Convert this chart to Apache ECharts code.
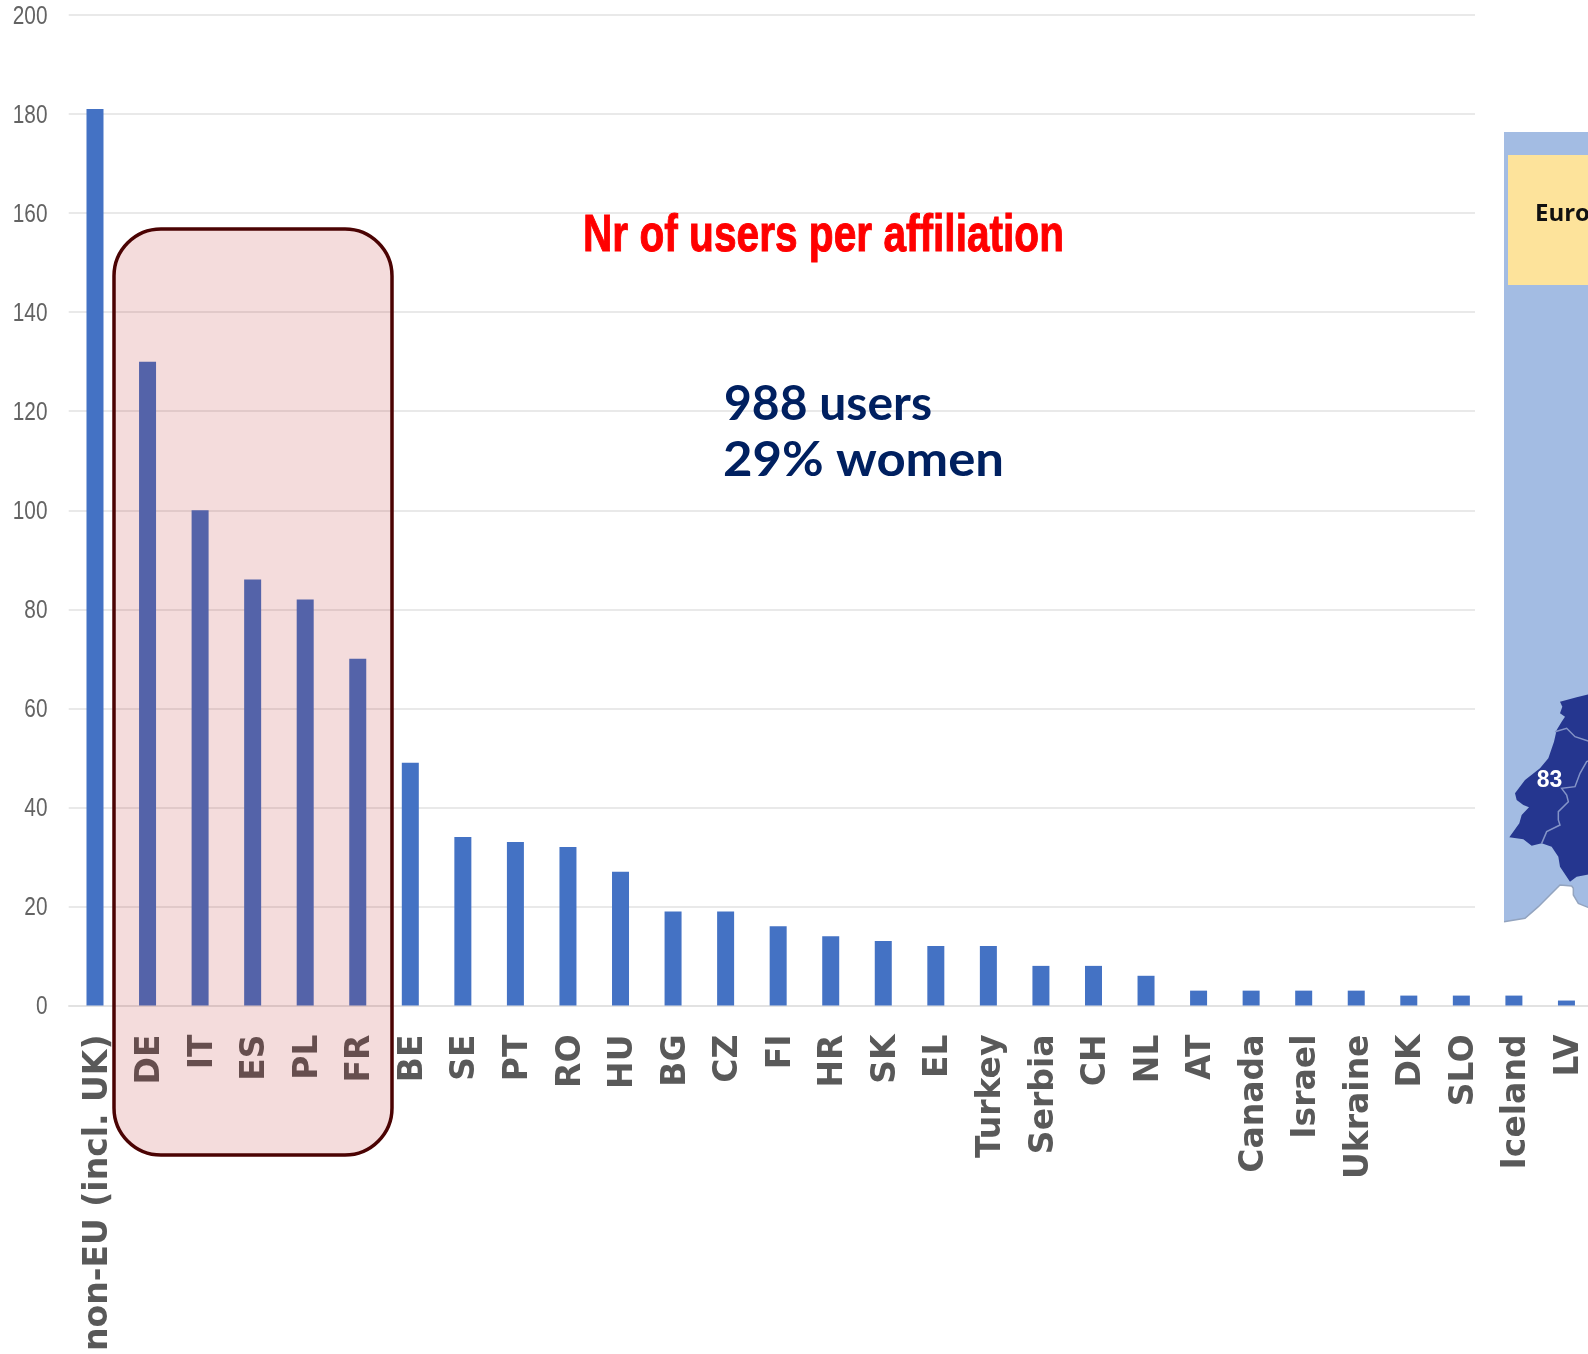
<!DOCTYPE html>
<html>
<head>
<meta charset="utf-8">
<title>Nr of users per affiliation</title>
<style>
  html, body { margin: 0; padding: 0; background: #fff; overflow: hidden; width: 1588px; height: 1354px; }
  /* The category axis runs on past the right edge of the page */
  #chart { width: 1640px; height: 1354px; }
</style>
<script src="https://cdn.jsdelivr.net/npm/echarts@6/dist/echarts.min.js"></script>
</head>
<body>
<div id="chart"></div>
<script>
// Users per affiliation, sorted from largest to smallest group
const categories = ['non-EU (incl. UK)', 'DE', 'IT', 'ES', 'PL', 'FR', 'BE', 'SE', 'PT', 'RO', 'HU', 'BG', 'CZ', 'FI', 'HR', 'SK', 'EL', 'Turkey', 'Serbia', 'CH', 'NL', 'AT', 'Canada', 'Israel', 'Ukraine', 'DK', 'SLO', 'Iceland', 'LV'];
const users = [181, 130, 100, 86, 82, 70, 49, 34, 33, 32, 27, 19, 19, 16, 14, 13, 12, 12, 8, 8, 6, 3, 3, 3, 3, 2, 2, 2, 1];
const yTicks = [0, 20, 40, 60, 80, 100, 120, 140, 160, 180, 200];

const titleText = 'Nr of users per affiliation';
const summaryLines = ['988 users', '29% women'];
const insetHeading = 'Europe';
const insetCount = '83';

// Outlines of the Iberian corner of the inset map, in page pixels
const upper = pts => pts.map(p => [1480 + p[0] / 3, 680 + p[1] / 3]);
const lower = pts => pts.map(p => [1480 + p[0] / 3, 800 + p[1] / 3]);
const africaCoast = lower([
  [345, 325], [324, 322], [295, 310], [280, 285], [280, 265], [275, 258], [240, 255],
  [210, 285], [175, 320], [135, 355], [72, 365]
]);
const seaShape = [[1504, 132], [1600, 132]].concat(africaCoast);
const landShape = upper([
  [345, 38], [290, 52], [240, 65], [247, 80], [240, 100], [255, 110], [245, 125], [230, 150],
  [222, 185], [205, 235], [180, 265], [135, 300], [105, 340], [110, 360]
]).concat(lower([
  [130, 15], [147, 22], [125, 45], [118, 70], [88, 112], [130, 118], [155, 137], [185, 130],
  [215, 140], [235, 170], [240, 200], [270, 245], [290, 230], [345, 220]
]));
const borderNorth = upper([[225, 155], [260, 145], [285, 170], [345, 190]]);
const borderEast = upper([[345, 235], [320, 245], [300, 280], [285, 320], [245, 325], [260, 345]]).concat(lower([
  [265, 5], [235, 35], [235, 60], [240, 75], [200, 95], [185, 130]
]));

// Horizontal scale that makes a string span a given width in a given font
const measureCtx = document.createElement('canvas').getContext('2d');
const fitWidth = (text, font, width) => {
  measureCtx.font = font;
  return width / measureCtx.measureText(text).width;
};

const chart = echarts.init(document.getElementById('chart'), null, { renderer: 'canvas' });

chart.setOption({
  animation: false,
  backgroundColor: '#ffffff',
  grid: { left: 68.72, top: 15, width: 1524, height: 990.5, containLabel: false },
  xAxis: {
    type: 'category',
    data: categories,
    axisTick: { show: false },
    axisLine: { lineStyle: { color: '#dfdfdf', width: 1.5 } },
    axisLabel: {
      interval: 0,
      rotate: 90,
      margin: 29,
      // A short line box hung from the tick centres the capitals on each bar
      verticalAlign: 'top',
      lineHeight: 6,
      color: '#595959',
      fontFamily: 'DejaVu Sans',
      fontWeight: 700,
      fontSize: 33
    }
  },
  yAxis: {
    type: 'value',
    min: yTicks[0],
    max: yTicks[yTicks.length - 1],
    interval: yTicks[1] - yTicks[0],
    axisLine: { show: false },
    axisTick: { show: false },
    splitLine: { lineStyle: { color: '#e2e2e2', width: 1.5 } },
    axisLabel: { show: false }
  },
  series: [{
    type: 'bar',
    data: users,
    barWidth: 17,
    itemStyle: { color: '#4472c4' }
  }]
});

// Narrow tick numbers, placed through the value axis
const tickFont = '26px "Liberation Sans"';
const tickLabels = yTicks.map(v => ({
  type: 'text',
  z: 40,
  x: 47.5,
  y: chart.convertToPixel({ yAxisIndex: 0 }, v) + 1.5,
  scaleX: 0.8,
  style: { text: String(v), fill: '#636363', font: tickFont, textAlign: 'right', textVerticalAlign: 'middle' }
}));

const titleFont = '700 52px "Liberation Sans"';
const summaryFont = '700 48px Lato';

chart.setOption({
  graphic: { elements: tickLabels.concat([
    // Gridlines stop short of the inset map
    { type: 'rect', z: 50, shape: { x: 1475, y: 0, width: 170, height: 985 }, style: { fill: '#ffffff' } },
    { type: 'polygon', z: 51, shape: { points: seaShape }, style: { fill: '#a3bce3' } },
    { type: 'polyline', z: 52, shape: { points: africaCoast }, style: { stroke: '#93a4bf', lineWidth: 1.5, fill: 'none' } },
    { type: 'polygon', z: 52, shape: { points: landShape }, style: { fill: '#25368f' } },
    { type: 'polyline', z: 53, shape: { points: borderNorth }, style: { stroke: '#8494c8', lineWidth: 1.5, fill: 'none' } },
    { type: 'polyline', z: 53, shape: { points: borderEast }, style: { stroke: '#8494c8', lineWidth: 1.5, fill: 'none' } },
    { type: 'rect', z: 53, shape: { x: 1508, y: 155, width: 90, height: 130 }, style: { fill: '#fde39b' } },
    { type: 'text', z: 54, x: 1535, y: 214, style: { text: insetHeading, fill: '#111111', font: '700 24px "Open Sans"', textAlign: 'left', textVerticalAlign: 'middle' } },
    { type: 'text', z: 54, x: 1549.5, y: 781, style: { text: insetCount, fill: '#ffffff', font: '700 23px "Liberation Sans"', textAlign: 'center', textVerticalAlign: 'middle' } },

    // Highlight around the five largest member states
    { type: 'rect', z: 60, shape: { x: 114, y: 229, width: 278, height: 926, r: 47 },
      style: { fill: 'rgba(179,12,12,0.144)', stroke: '#4b0303', lineWidth: 3.5 } },

    // Headline and totals
    { type: 'text', z: 70, x: 583, y: 237, scaleX: fitWidth(titleText, titleFont, 481),
      style: { text: titleText, fill: '#ff0000', stroke: '#ff0000', lineWidth: 1, font: titleFont, textAlign: 'left', textVerticalAlign: 'middle' } },
    { type: 'text', z: 70, x: 724, y: 405, scaleX: fitWidth(summaryLines[0], summaryFont, 208),
      style: { text: summaryLines[0], fill: '#002060', font: summaryFont, textAlign: 'left', textVerticalAlign: 'middle' } },
    { type: 'text', z: 70, x: 723, y: 461, scaleX: fitWidth(summaryLines[1], summaryFont, 281),
      style: { text: summaryLines[1], fill: '#002060', font: summaryFont, textAlign: 'left', textVerticalAlign: 'middle' } }
  ]) }
});
</script>
</body>
</html>
